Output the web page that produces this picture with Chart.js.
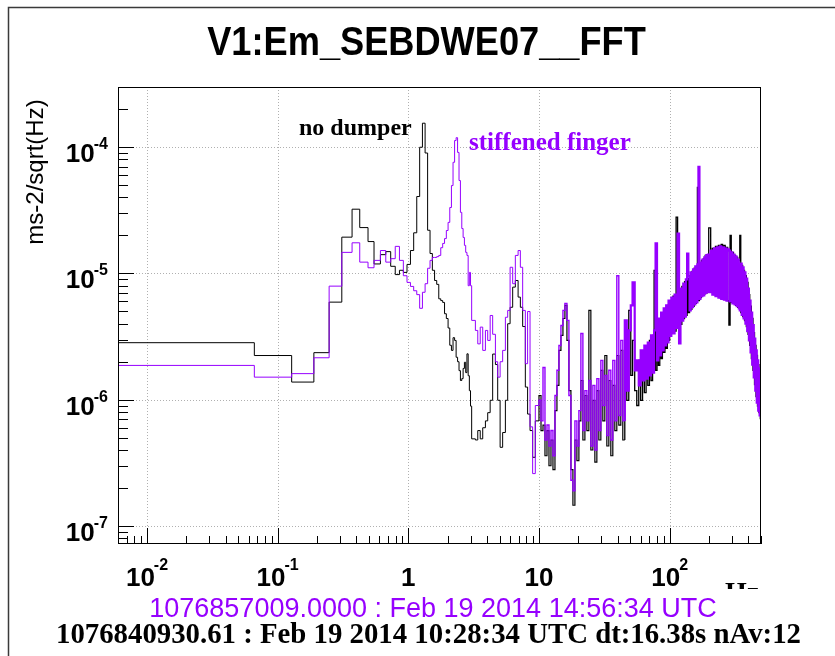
<!DOCTYPE html>
<html><head><meta charset="utf-8">
<script src="https://cdn.jsdelivr.net/npm/chart.js@4/dist/chart.umd.min.js"></script>
<style>html,body{margin:0;padding:0;background:#fff}#wrap{width:835px;height:656px;position:relative}</style>
</head><body><div id="wrap"><canvas id="c"></canvas></div>
<script>
// ---- data (frequency in Hz, amplitude in ms-2/sqrt(Hz)) ----
const freqs = [
 0.006, 0.0663, 0.128, 0.1893, 0.2477, 0.3097, 0.3711, 0.4248, 0.4915, 0.5463, 0.6114,
 0.672, 0.733, 0.794, 0.855, 0.916, 0.977, 1.038, 1.099, 1.160, 1.221,
 1.282, 1.344, 1.405, 1.466, 1.527, 1.588, 1.649, 1.710, 1.771, 1.832,
 1.893, 1.954, 2.015, 2.076, 2.137, 2.199, 2.260, 2.321, 2.382, 2.443,
 2.504, 2.565, 2.626, 2.687, 2.748, 2.809, 2.870, 2.931, 2.992, 3.053,
 3.26, 3.40, 3.55, 3.71, 3.89, 4.05, 4.23, 4.42, 4.64, 4.83,
 5.04, 5.27, 5.53, 5.76, 6.01, 6.29, 6.59, 6.92, 7.20, 7.50,
 7.86, 8.18, 8.54, 8.94, 9.37,
 10.0, 10.36, 10.73, 11.11, 11.51, 11.92, 12.35, 12.79, 13.25, 13.72,
 14.21, 14.72, 15.25, 15.79, 16.36, 16.94, 17.55, 18.18, 18.83, 19.50,
 20.20, 20.92, 21.67, 22.45, 23.25, 24.08, 24.94, 25.84, 26.76, 27.72,
 28.71, 29.74, 30.80, 31.90, 33.05, 34.23, 35.45, 36.72, 38.04, 39.40,
 40.81, 42.27, 43.78, 45.35, 46.97, 48.65, 50.39,
 52, 54, 56, 58, 60, 62, 64, 66, 68, 70, 72, 74, 76, 78, 80, 82, 84, 86, 88, 90, 92, 94, 96, 98, 100,
 103, 106, 109, 112, 115, 118, 121, 124, 127, 130, 133, 136, 139, 142, 145, 148, 151,
 154, 157, 160, 163, 166, 169, 172, 175, 178, 181, 184, 187, 190, 193, 196, 199,
 206, 212, 218, 224, 230, 236, 242, 248, 254, 260,
 266, 272, 278, 284, 290, 296, 302, 308, 314, 320,
 326, 332, 338, 344, 350, 356, 362, 368, 374, 380,
 386, 392, 398, 404, 410, 416, 422, 428, 434, 440,
 446, 452, 458, 464, 470, 476, 482, 488, 494, 500
];
const noDumper = [
 2.83e-6, 2.83e-6, 2.24e-6, 1.38e-6, 2.36e-6, 5.93e-6, 1.94e-5, 3.23e-5, 2.31e-5, 1.79e-5, 1.19e-5,
 1.41e-5, 1.49e-5, 1.14e-5, 9.8e-6, 1.06e-5, 1.02e-5, 1.18e-5, 1.52e-5, 2.1e-5, 4.07e-5,
 1.0e-4, 1.55e-4, 9.0e-5, 2.2e-5, 1.44e-5, 1.06e-5, 8.8e-6, 8.2e-6, 6.3e-6, 6.1e-6,
 5.9e-6, 4.8e-6, 4.4e-6, 3.7e-6, 2.7e-6, 2.46e-6, 3.1e-6, 2.95e-6, 2.17e-6, 2.0e-6,
 1.7e-6, 1.42e-6, 1.47e-6, 1.77e-6, 1.98e-6, 1.64e-6, 2.31e-6, 1.55e-6, 1.18e-6, 8.9e-7,
 4.9e-7, 4.8e-7, 5.7e-7, 4.9e-7, 6.0e-7, 6.8e-7, 7.9e-7, 9.9e-7, 2.3e-6, 1.9e-6,
 9.9e-7, 4.2e-7, 5.5e-7, 9.9e-7, 4.0e-6, 5.4e-6, 7.8e-6, 8.8e-6, 6.5e-6, 5.4e-6,
 3.8e-6, 1.26e-6, 7.7e-7, 5.7e-7, 3.5e-7,
 6.8e-7, 1.08e-6, 5.7e-7, 6.3e-7, 3.6e-7, 5.7e-7, 3.0e-7, 4.8e-7, 2.8e-7, 8.2e-7,
 1.3e-6, 2.46e-6, 3.23e-6, 4.4e-6, 5.6e-6, 2.95e-6, 1.18e-6, 2.8e-7, 1.46e-7, 4.8e-7,
 3.3e-7, 6.8e-7, 1.42e-6, 4.8e-7, 1.08e-6, 5.7e-7, 5.1e-6, 4.0e-7, 9.9e-7, 3.2e-7,
 1.18e-6, 4.8e-7, 1.71e-6, 6.8e-7, 2.24e-6, 4.3e-7, 1.42e-6, 3.6e-7, 1.3e-6, 5.7e-7,
 2.24e-6, 6.3e-7, 2.46e-6, 4.8e-7, 3.54e-6, 9.9e-7, 5.1e-6,
 1.56e-6, 2.95e-6, 1.18e-6, 9.0e-7, 2.05e-6, 9.9e-7, 2.24e-6, 1.14e-6, 2.46e-6, 1.3e-6,
 2.95e-6, 1.42e-6, 3.23e-6, 1.06e-5, 1.71e-6, 3.87e-6, 1.87e-6, 4.25e-6, 2.12e-6, 4.65e-6,
 2.37e-6, 5.1e-6, 2.55e-6, 5.6e-6, 2.95e-6,
 6.1e-6, 3.4e-6, 6.6e-6, 3.5e-6, 2.8e-5, 3.8e-6, 7.3e-6, 3.95e-6, 7.9e-6, 4.4e-6, 8.6e-6,
 4.65e-6, 9.1e-6, 4.9e-6, 9.6e-6, 5.2e-6, 1.04e-5, 5.5e-6, 1.1e-5, 5.8e-6, 1.14e-5, 4.8e-5,
 6.1e-6, 1.22e-5, 6.45e-6, 1.27e-5, 6.7e-6, 1.31e-5, 6.9e-6, 1.39e-5, 7.0e-6, 1.41e-5, 7.1e-6,
 2.3e-5, 7.1e-6, 1.58e-5, 6.8e-6, 1.64e-5, 6.6e-6, 1.67e-5, 6.45e-6, 1.7e-5, 6.3e-6,
 1.67e-5, 6.2e-6, 1.61e-5, 6.1e-6, 3.9e-6, 2.0e-5, 5.9e-6, 1.47e-5, 5.8e-6, 1.39e-5,
 5.6e-6, 1.34e-5, 5.4e-6, 1.27e-5, 2.0e-5, 4.9e-6, 1.16e-5, 4.56e-6, 1.06e-5, 4.24e-6,
 9.6e-6, 3.8e-6, 8.5e-6, 3.3e-6, 6.8e-6, 2.7e-6, 5.5e-6, 2.12e-6, 4.4e-6, 1.71e-6,
 3.4e-6, 1.32e-6, 2.7e-6, 1.06e-6, 2.24e-6, 8.9e-7, 1.9e-6, 7.9e-7, 1.64e-6, 7.1e-7
];
const stiffenedFinger = [
 1e-8, 1.87e-6, 1.51e-6, 1.61e-6, 2.15e-6, 7.94e-6, 1.47e-5, 1.75e-5, 1.23e-5, 1.11e-5, 1.27e-5,
 1.52e-5, 1.23e-5, 1.31e-5, 1.64e-5, 1.27e-5, 9.6e-6, 8.5e-6, 7.9e-6, 7.3e-6, 6.8e-6,
 5.3e-6, 7.1e-6, 8.3e-6, 1.1e-5, 1.27e-5, 1.34e-5, 1.34e-5, 1.36e-5, 1.39e-5, 1.6e-5,
 1.73e-5, 1.89e-5, 2.19e-5, 2.54e-5, 3.33e-5, 4.97e-5, 7.6e-5, 1.13e-4, 1.19e-4, 9.1e-5,
 5.45e-5, 3.05e-5, 2.27e-5, 1.93e-5, 1.67e-5, 1.47e-5, 1.39e-5, 8.0e-6, 1.02e-5, 8.0e-6,
 4.25e-6, 3.54e-6, 2.77e-6, 3.76e-6, 2.46e-6, 3.54e-6, 2.95e-6, 4.65e-6, 3.3e-6, 2.0e-6,
 1.51e-6, 2.0e-6, 2.46e-6, 4.5e-6, 5.1e-6, 1.12e-5, 8.3e-6, 1.39e-5, 1.52e-5, 1.12e-5,
 5.1e-6, 1.93e-6, 5.0e-6, 6.1e-7, 2.6e-7,
 9.0e-7, 9.9e-7, 6.8e-7, 1.8e-6, 4.8e-7, 6.3e-7, 4.3e-7, 5.7e-7, 3.6e-7, 1.08e-6,
 1.71e-6, 2.69e-6, 3.87e-6, 5.1e-6, 5.8e-6, 4.25e-6, 1.08e-6, 2.3e-7, 1.9e-7, 6.8e-7,
 4.3e-7, 8.2e-7, 3.35e-6, 5.7e-7, 1.18e-6, 6.8e-7, 1.42e-6, 4.3e-7, 1.3e-6, 4.0e-7,
 1.47e-6, 5.7e-7, 2.05e-6, 9.0e-7, 1.56e-6, 5.2e-7, 1.71e-6, 4.8e-7, 2.05e-6, 6.8e-7,
 9.6e-6, 7.5e-7, 2.95e-6, 6.8e-7, 4.25e-6, 1.18e-6, 3.54e-6,
 5.6e-6, 8.5e-6, 1.71e-6, 2.05e-6, 1.3e-6, 2.46e-6, 1.42e-6, 2.69e-6, 1.47e-6, 2.84e-6,
 1.56e-6, 3.23e-6, 1.64e-6, 3.54e-6, 1.73e-5, 2.05e-6, 4.4e-6, 2.24e-6, 4.9e-6, 2.46e-6,
 5.3e-6, 2.69e-6, 5.6e-6, 2.84e-6, 6.1e-6,
 3.2e-6, 6.45e-6, 3.35e-6, 6.8e-6, 3.7e-6, 2.07e-5, 2.8e-6, 7.6e-6, 4.24e-6, 8.3e-6, 4.56e-6,
 8.97e-6, 1.44e-5, 9.5e-6, 5.1e-6, 1.02e-5, 5.4e-6, 1.08e-5, 5.7e-6, 1.14e-5, 5.9e-6, 1.18e-5,
 7.0e-5, 6.3e-6, 1.22e-5, 6.6e-6, 1.29e-5, 6.7e-6, 1.34e-5, 7.0e-6, 1.39e-5, 7.1e-6, 1.41e-5,
 7.1e-6, 1.52e-5, 6.8e-6, 1.58e-5, 6.6e-6, 1.61e-5, 6.45e-6, 1.64e-5, 6.3e-6, 1.61e-5,
 6.2e-6, 1.58e-5, 6.1e-6, 1.55e-5, 1.52e-5, 6.0e-6, 1.47e-5, 5.8e-6, 1.41e-5, 5.7e-6,
 1.36e-5, 5.5e-6, 1.29e-5, 5.3e-6, 5.1e-6, 1.2e-5, 4.7e-6, 1.12e-5, 4.4e-6, 1.02e-5,
 4.0e-6, 9.1e-6, 3.5e-6, 7.6e-6, 2.95e-6, 6.1e-6, 2.37e-6, 4.9e-6, 1.9e-6, 3.9e-6,
 1.5e-6, 3.05e-6, 1.18e-6, 2.46e-6, 9.5e-7, 2.05e-6, 8.2e-7, 1.77e-6, 7.5e-7, 1.56e-6
];
const xTickValues = [0.01, 0.1, 1, 10, 100];
const xTickBases  = ['10', '10', '1', '10', '10'];
const xTickExps   = ['-2', '-1', '', '', '2'];
const yTickValues = [1e-4, 1e-5, 1e-6, 1e-7];
const yTickBases  = ['10', '10', '10', '10'];
const yTickExps   = ['-4', '-5', '-6', '-7'];
const seriesNames = ['no dumper', 'stiffened finger'];
const titleText = 'V1:Em_SEBDWE07__FFT';
const yTitleText = 'ms-2/sqrt(Hz)';
const xTitleText = 'Hz';
const footerPurple = '1076857009.0000 : Feb 19 2014 14:56:34 UTC';
const footerBlack = '1076840930.61 : Feb 19 2014 10:28:34 UTC dt:16.38s nAv:12';

// ---- styling ----
const PURPLE = '#9600ff';
const SANS = '"Liberation Sans", Arial, Helvetica, sans-serif';
const SERIF = '"Liberation Serif", "Times New Roman", serif';

function pts(vals) { return freqs.map((f, i) => ({ x: f, y: vals[i] })); }

function drawPow(ctx, base, exp, x, baseline, expBaseline, align) {
  ctx.font = 'bold 26px ' + SANS;
  const wb = ctx.measureText(base).width;
  ctx.font = 'bold 16px ' + SANS;
  const we = exp ? ctx.measureText(exp).width : 0;
  const gap = exp ? -1 : 0;
  const total = wb + gap + we;
  const left = align === 'center' ? x - total / 2 : x - total;
  ctx.textAlign = 'left';
  ctx.textBaseline = 'alphabetic';
  ctx.font = 'bold 26px ' + SANS;
  ctx.fillText(base, left, baseline);
  if (exp) { ctx.font = 'bold 16px ' + SANS; ctx.fillText(exp, left + wb + gap, expBaseline); }
}

const rootStyle = {
  id: 'rootStyle',
  beforeDraw(chart) {
    const ctx = chart.ctx;
    ctx.save();
    ctx.fillStyle = '#fff';
    ctx.fillRect(0, 0, chart.width, chart.height);
    ctx.strokeStyle = '#3a3a3a';
    ctx.lineWidth = 1.5;
    ctx.beginPath();
    ctx.moveTo(8.5, chart.height); ctx.lineTo(8.5, 7.5); ctx.lineTo(chart.width, 7.5);
    ctx.stroke();
    ctx.restore();
  },
  beforeDatasetsDraw(chart) {
    const { ctx, chartArea: a, scales: { x, y } } = chart;
    ctx.save();
    ctx.strokeStyle = '#b0b0b0';
    ctx.lineWidth = 1;
    ctx.setLineDash([1, 2]);
    xTickValues.forEach(v => {
      const px = Math.round(x.getPixelForValue(v)) + 0.5;
      ctx.beginPath(); ctx.moveTo(px, a.top); ctx.lineTo(px, a.bottom); ctx.stroke();
    });
    yTickValues.forEach(v => {
      const py = Math.round(y.getPixelForValue(v)) + 0.5;
      ctx.beginPath(); ctx.moveTo(a.left, py); ctx.lineTo(a.right, py); ctx.stroke();
    });
    ctx.restore();
  },
  afterDatasetsDraw(chart) {
    const { ctx, chartArea: a, scales: { x, y } } = chart;
    ctx.save();
    // frame
    ctx.strokeStyle = '#000';
    ctx.lineWidth = 1;
    ctx.strokeRect(a.left + 0.5, a.top + 0.5, a.right - a.left - 1, a.bottom - a.top - 1);
    // tick marks (inside the frame)
    ctx.beginPath();
    for (let e = -3; e <= 2; e++) {
      for (let m = 1; m <= 9; m++) {
        const v = m * Math.pow(10, e);
        if (v < x.min || v > x.max) continue;
        const px = Math.round(x.getPixelForValue(v)) + 0.5;
        const len = m === 1 ? 16 : 8;
        ctx.moveTo(px, a.bottom); ctx.lineTo(px, a.bottom - len);
      }
    }
    for (let e = -8; e <= -3; e++) {
      for (let m = 1; m <= 9; m++) {
        const v = m * Math.pow(10, e);
        if (v < y.min || v > y.max) continue;
        const py = Math.round(y.getPixelForValue(v)) + 0.5;
        const len = m === 1 ? 16 : 10;
        ctx.moveTo(a.left, py); ctx.lineTo(a.left + len, py);
      }
    }
    ctx.stroke();
    // tick labels
    ctx.fillStyle = '#000';
    xTickValues.forEach((v, i) => {
      drawPow(ctx, xTickBases[i], xTickExps[i], x.getPixelForValue(v), 586, 570, 'center');
    });
    yTickValues.forEach((v, i) => {
      const py = y.getPixelForValue(v);
      drawPow(ctx, yTickBases[i], yTickExps[i], a.left - 10, py + 15, py + 2, 'right');
    });
    // title
    ctx.save();
    ctx.translate(426.5, 55);
    ctx.scale(0.905, 1);
    ctx.font = 'bold 40px ' + SANS;
    ctx.textAlign = 'center';
    ctx.fillText(titleText, 0, 0);
    ctx.restore();
    // y title
    ctx.save();
    ctx.translate(43, 172);
    ctx.rotate(-Math.PI / 2);
    ctx.font = '24px ' + SANS;
    ctx.textAlign = 'center';
    ctx.fillText(yTitleText, 0, 0);
    ctx.restore();
    // x title (clipped like the reference)
    ctx.save();
    ctx.beginPath(); ctx.rect(700, 560, 135, 29); ctx.clip();
    ctx.font = 'bold 28px ' + SERIF;
    ctx.textAlign = 'left';
    ctx.fillText(xTitleText, 725, 601);
    ctx.restore();
    // series annotations
    ctx.textAlign = 'left';
    ctx.font = 'bold 24px ' + SERIF;
    ctx.fillStyle = '#000';
    ctx.fillText(seriesNames[0], 299, 135);
    ctx.font = 'bold 25px ' + SERIF;
    ctx.fillStyle = PURPLE;
    ctx.fillText(seriesNames[1], 469, 150);
    // footers
    ctx.textAlign = 'center';
    ctx.font = '27px ' + SANS;
    ctx.fillStyle = PURPLE;
    ctx.fillText(footerPurple, 433, 617);
    ctx.font = 'bold 28.8px ' + SERIF;
    ctx.fillStyle = '#000';
    ctx.fillText(footerBlack, 428.5, 643);
    ctx.restore();
  }
};

// dense high-frequency part is drawn with a slightly heavier stroke
const bandWidth = (wide, mid) => c => (c.p0.parsed.x >= 45 ? wide : (c.p0.parsed.x >= 9.5 ? mid : 1));

new Chart(document.getElementById('c'), {
  type: 'line',
  data: {
    datasets: [
      { label: seriesNames[1], data: pts(stiffenedFinger), borderColor: PURPLE, borderWidth: 1,
        segment: { borderWidth: bandWidth(2.2, 1.4) },
        stepped: 'after', pointRadius: 0, fill: false, order: 0 },
      { label: seriesNames[0], data: pts(noDumper), borderColor: '#000', borderWidth: 1,
        segment: { borderWidth: bandWidth(1.3, 1.2) },
        stepped: 'after', pointRadius: 0, fill: false, order: 1 }
    ]
  },
  options: {
    responsive: true,
    maintainAspectRatio: false,
    devicePixelRatio: 1,
    animation: false,
    events: [],
    layout: { padding: { left: 118, top: 87, right: 74, bottom: 112 } },
    plugins: { legend: { display: false }, tooltip: { enabled: false }, title: { display: false } },
    scales: {
      x: { type: 'logarithmic', min: 0.006, max: 500, display: false },
      y: { type: 'logarithmic', min: 7.2e-8, max: 3e-4, display: false }
    }
  },
  plugins: [rootStyle]
});
</script>
</body></html>
